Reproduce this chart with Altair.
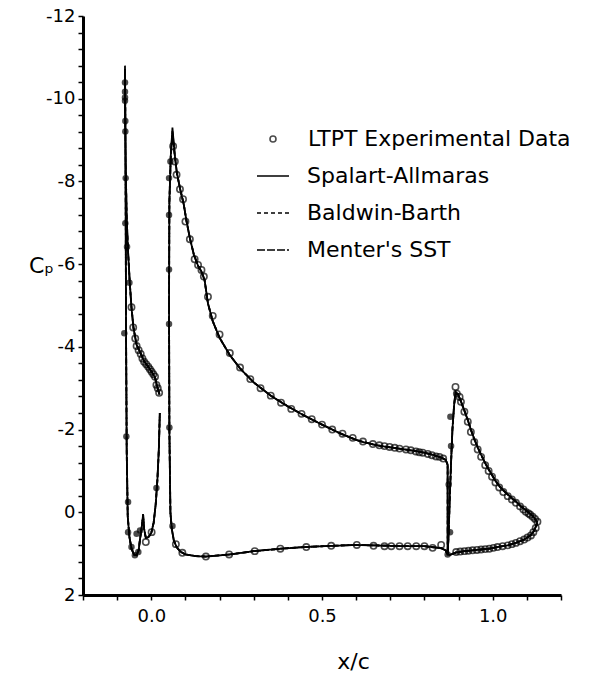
import altair as alt
import pandas as pd

FONT = "DejaVu Sans, Liberation Sans, sans-serif"

# ---------------- CFD lines (closed loops per element) -------------
slat_x = [0.024, 0.016, 0.011, 0.001, -0.009, -0.021, -0.031, -0.043, -0.052, -0.058, -0.063,
          -0.068, -0.072, -0.075, -0.077, -0.077, -0.076, -0.075, -0.074, -0.072, -0.069, -0.064,
          -0.058, -0.050, -0.043, -0.037, -0.033, -0.029, -0.026, -0.024, -0.021, -0.016, -0.008,
          0.000, 0.007, 0.013, 0.018, 0.022, 0.025]
slat_cp = [-2.85, -3.08, -3.26, -3.40, -3.52, -3.65, -3.84, -4.05, -4.45, -4.95, -5.55,
           -6.30, -7.10, -8.40, -9.90, -10.80, -9.60, -7.50, -4.50, -1.50, 0.10, 0.60,
           0.88, 1.03, 1.04, 0.92, 0.65, 0.42, 0.22, 0.05, 0.40, 0.62, 0.60,
           0.50, 0.25, -0.20, -0.80, -1.50, -2.40]

main_x = [0.868, 0.862, 0.850, 0.835, 0.82, 0.80, 0.775, 0.75, 0.725, 0.70, 0.675, 0.65, 0.62,
          0.60, 0.55, 0.50, 0.45, 0.40, 0.35, 0.30, 0.26, 0.23, 0.20, 0.18, 0.166, 0.156, 0.147,
          0.137, 0.125, 0.113, 0.103, 0.095, 0.085, 0.075, 0.068, 0.062, 0.057, 0.053, 0.052,
          0.053, 0.056, 0.060, 0.066, 0.074, 0.085, 0.10, 0.13, 0.16, 0.23, 0.30, 0.38, 0.45,
          0.53, 0.60, 0.65, 0.70, 0.75, 0.80, 0.83, 0.85, 0.862, 0.868, 0.868]
main_cp = [-1.15, -1.27, -1.32, -1.36, -1.40, -1.44, -1.48, -1.51, -1.54, -1.57, -1.60, -1.64, -1.70,
           -1.75, -1.92, -2.12, -2.33, -2.56, -2.82, -3.14, -3.48, -3.80, -4.22, -4.62, -5.05, -5.62, -5.82,
           -5.96, -6.22, -6.63, -7.05, -7.45, -7.80, -8.20, -8.70, -9.30, -8.60, -7.50, -5.00,
           -2.00, 0.00, 0.40, 0.68, 0.84, 0.95, 1.02, 1.06, 1.07, 1.02, 0.94, 0.88, 0.84,
           0.81, 0.79, 0.80, 0.81, 0.82, 0.82, 0.85, 0.87, 0.92, 1.02, -1.15]

flap_x = [1.131, 1.124, 1.117, 1.107, 1.097, 1.083, 1.068, 1.056, 1.044, 1.031, 1.019, 1.008,
          0.998, 0.988, 0.978, 0.966, 0.956, 0.946, 0.936, 0.927, 0.917, 0.907, 0.898, 0.891,
          0.887, 0.882, 0.878, 0.874, 0.871, 0.868, 0.875, 0.893, 0.917, 0.941, 0.966, 0.990,
          1.014, 1.044, 1.068, 1.092, 1.112, 1.121, 1.131]
flap_cp = [0.25, 0.16, 0.09, 0.02, -0.05, -0.14, -0.26, -0.34, -0.43, -0.53, -0.64, -0.76,
           -0.90, -1.04, -1.19, -1.39, -1.57, -1.77, -2.00, -2.23, -2.46, -2.68, -2.86, -2.92,
           -2.60, -2.00, -1.20, -0.30, 0.50, 1.02, 1.03, 0.97, 0.94, 0.92, 0.90, 0.88,
           0.84, 0.80, 0.74, 0.66, 0.55, 0.45, 0.25]

models = ["Spalart-Allmaras", "Baldwin-Barth", "Menter's SST"]
# suction-peak values that differ between the turbulence models
peak_cp = {
    "Baldwin-Barth": {"slat": -10.65, "main": -9.15, "flap": -2.84},
    "Menter's SST": {"slat": -10.72, "main": -9.22, "flap": -2.88},
}

# ---------------- LTPT experimental data -------------
exp_x = [
    -0.058, -0.053, -0.047, -0.043, -0.037, -0.031, -0.026, -0.021, -0.015, -0.009, -0.004,
    0.001, 0.006, 0.011, 0.015, 0.019, 0.023, -0.016, 0.001,
    0.064, 0.069, 0.074, 0.084, 0.093, 0.100, 0.113, 0.127, 0.137, 0.147, 0.154, 0.166,
    0.18, 0.20, 0.23, 0.26, 0.29, 0.32, 0.35, 0.38, 0.41, 0.44, 0.47, 0.50, 0.53, 0.56,
    0.59, 0.62, 0.649, 0.668, 0.683, 0.698, 0.713, 0.727, 0.746, 0.76, 0.775, 0.785, 0.795,
    0.81, 0.822, 0.834, 0.844, 0.855,
    0.072, 0.091, 0.160, 0.228, 0.303, 0.378, 0.454, 0.527, 0.602, 0.651, 0.683, 0.703,
    0.727, 0.751, 0.776, 0.800, 0.824, 0.849,
    0.891, 0.895, 0.903, 0.907, 0.917, 0.927, 0.936, 0.946, 0.956, 0.966, 0.978, 0.988,
    0.998, 1.008, 1.019, 1.031, 1.044, 1.056, 1.068, 1.080, 1.090, 1.097, 1.105, 1.110,
    1.117, 1.124, 1.131,
    0.893, 0.905, 0.917, 0.929, 0.941, 0.954, 0.966, 0.978, 0.990, 1.002, 1.014, 1.029,
    1.044, 1.056, 1.068, 1.080, 1.092, 1.102, 1.112, 1.119, 1.126,
]
exp_cp = [
    -4.96, -4.47, -4.20, -4.02, -3.92, -3.83, -3.72, -3.64, -3.58, -3.52, -3.46,
    -3.40, -3.34, -3.28, -3.08, -3.00, -2.89, 0.72, 0.48,
    -8.85, -8.48, -8.16, -7.81, -7.57, -7.03, -6.60, -6.12, -5.98, -5.86, -5.70, -5.21,
    -4.75, -4.30, -3.85, -3.50, -3.22, -3.00, -2.82, -2.65, -2.50, -2.38, -2.25, -2.12, -2.00, -1.90,
    -1.80, -1.71, -1.65, -1.62, -1.60, -1.58, -1.56, -1.54, -1.52, -1.50, -1.47, -1.45, -1.44,
    -1.41, -1.38, -1.35, -1.34, -1.30,
    0.77, 0.98, 1.07, 1.02, 0.94, 0.88, 0.84, 0.81, 0.79, 0.81, 0.82, 0.82,
    0.82, 0.82, 0.82, 0.82, 0.86, 0.79,
    -3.03, -2.87, -2.79, -2.67, -2.43, -2.19, -1.94, -1.70, -1.52, -1.34, -1.14, -1.00,
    -0.86, -0.72, -0.60, -0.49, -0.39, -0.31, -0.23, -0.14, -0.07, -0.01, 0.03, 0.06,
    0.11, 0.16, 0.23,
    0.96, 0.95, 0.94, 0.93, 0.92, 0.91, 0.90, 0.89, 0.88, 0.86, 0.84, 0.82,
    0.80, 0.77, 0.74, 0.70, 0.66, 0.61, 0.56, 0.48, 0.38,
]

# densely packed taps around the leading edges (they print as solid dots)
le_x = [-0.077, -0.077, -0.077, -0.077, -0.076, -0.076, -0.075, -0.076, -0.071, -0.064, -0.079,
        -0.073, -0.068, -0.068, -0.058, -0.048, -0.038, -0.043, -0.033, 0.015,
        0.056, 0.052, 0.052, 0.052, 0.052, 0.053, 0.062,
        0.876, 0.878, 0.871, 0.875, 0.868]
le_cp = [-10.39, -10.17, -10.03, -9.95, -9.46, -9.21, -8.08, -6.99, -6.42, -5.55, -4.33,
         -1.83, -0.25, 0.48, 0.84, 1.04, 0.96, 0.52, 0.44, -0.59,
         -8.48, -8.08, -7.19, -5.87, -4.55, -2.05, 0.33,
         -2.31, -1.60, -0.67, 0.48, 1.02]

# ---------------- axis ticks (labels only on the major ones) -------------
x_ticks = [-0.2, -0.1, 0.0, 0.1, 0.2, 0.3, 0.4, 0.5, 0.6, 0.7, 0.8, 0.9, 1.0, 1.1, 1.2]
y_ticks = [-12, -11.6, -11.2, -10.8, -10.4, -10, -9.6, -9.2, -8.8, -8.4, -8, -7.6, -7.2,
           -6.8, -6.4, -6, -5.6, -5.2, -4.8, -4.4, -4, -3.6, -3.2, -2.8, -2.4, -2,
           -1.6, -1.2, -0.8, -0.4, 0, 0.4, 0.8, 1.2, 1.6, 2]

# ---------------- tables -------------
rows = []
for m in models:
    for el, xs, cps in [("slat", slat_x, slat_cp), ("main", main_x, main_cp), ("flap", flap_x, flap_cp)]:
        k = cps.index(min(cps))
        for i, (xv, cv) in enumerate(zip(xs, cps)):
            if i == k and m in peak_cp:
                cv = peak_cp[m][el]
            rows.append({"model": m, "element": el, "idx": i, "x": xv, "cp": cv})
df_lines = pd.DataFrame(rows)
df_exp = pd.DataFrame({"x": exp_x, "cp": exp_cp, "src": "LTPT Experimental Data"})
df_le = pd.DataFrame({"x": le_x, "cp": le_cp})

xscale = alt.Scale(domain=[-0.2, 1.2], nice=False, zero=False)
yscale = alt.Scale(domain=[-12, 2], reverse=True, nice=False, zero=False)

x_axis = alt.Axis(values=x_ticks,
                  labelExpr="(datum.value == 0 || datum.value == 0.5 || datum.value == 1) ? format(datum.value, '.1f') : ''",
                  ticks=True, tickSize=5, tickWidth=1.5, tickColor="black", grid=False,
                  domainColor="black", domainWidth=3, labelColor="black", labelOverlap=False,
                  labelFont=FONT, labelFontSize=18, labelPadding=7, labelFlush=False,
                  title="x/c", titleFont=FONT, titleFontSize=22, titleFontWeight="normal",
                  titleColor="black", titleX=270, titleY=66, titleBaseline="middle",
                  titleAlign="center")
y_axis = alt.Axis(orient="left", values=y_ticks,
                  labelExpr="(datum.value % 2 == 0) ? '' + datum.value : ''",
                  ticks=True, tickSize=5, tickWidth=1.5, tickColor="black", labelOverlap=False,
                  grid=False, domainColor="black", domainWidth=3, labelColor="black",
                  labelFont=FONT, labelFontSize=18, labelPadding=3,
                  title="Cₚ", titleFont=FONT, titleFontSize=22, titleFontWeight="normal",
                  titleColor="black", titleAngle=0, titleX=-42, titleY=249,
                  titleAlign="center", titleBaseline="middle")

X = alt.X("x:Q", scale=xscale, axis=x_axis, title="x/c")
Y = alt.Y("cp:Q", scale=yscale, axis=y_axis, title="Cₚ")

lines = alt.Chart(df_lines).mark_line(color="black", strokeWidth=1.8).encode(
    x=X,
    y=Y,
    strokeDash=alt.StrokeDash(
        "model:N",
        scale=alt.Scale(domain=models, range=[[1, 0], [4, 3], [8, 2]]),
        sort=models,
        legend=alt.Legend(orient="none", legendX=173, legendY=143, title=None,
                          symbolType="stroke", symbolSize=1024, symbolStrokeWidth=1.6,
                          symbolStrokeColor="black", labelFont=FONT, labelFontSize=22,
                          labelColor="black", labelOffset=17, rowPadding=9, padding=0,
                          labelLimit=400),
    ),
    detail="element:N",
    order="idx:Q",
)

pts = alt.Chart(df_exp).mark_point(filled=False, color="black", size=40, strokeWidth=1.6).encode(
    x=X,
    y=Y,
    shape=alt.Shape("src:N", scale=alt.Scale(domain=["LTPT Experimental Data"], range=["circle"]),
                    legend=alt.Legend(orient="none", legendX=179, legendY=112, title=None,
                                      symbolSize=36, symbolStrokeWidth=1.6,
                                      symbolStrokeColor="black", symbolFillColor="white",
                                      labelFont=FONT, labelFontSize=22, labelColor="black",
                                      labelOffset=24, padding=0, labelLimit=400)),
)

dots = alt.Chart(df_le).mark_point(filled=True, color="black", size=42).encode(
    x=X,
    y=Y,
)

chart = alt.layer(lines, pts, dots).properties(
    width=478, height=579,
    autosize=alt.AutoSizeParams(type="none"),
    padding={"left": 83, "top": 16, "right": 43, "bottom": 81},
    background="white",
).configure_view(stroke=None)

chart.save("out.html", embed_options={"renderer": "svg", "actions": False})
